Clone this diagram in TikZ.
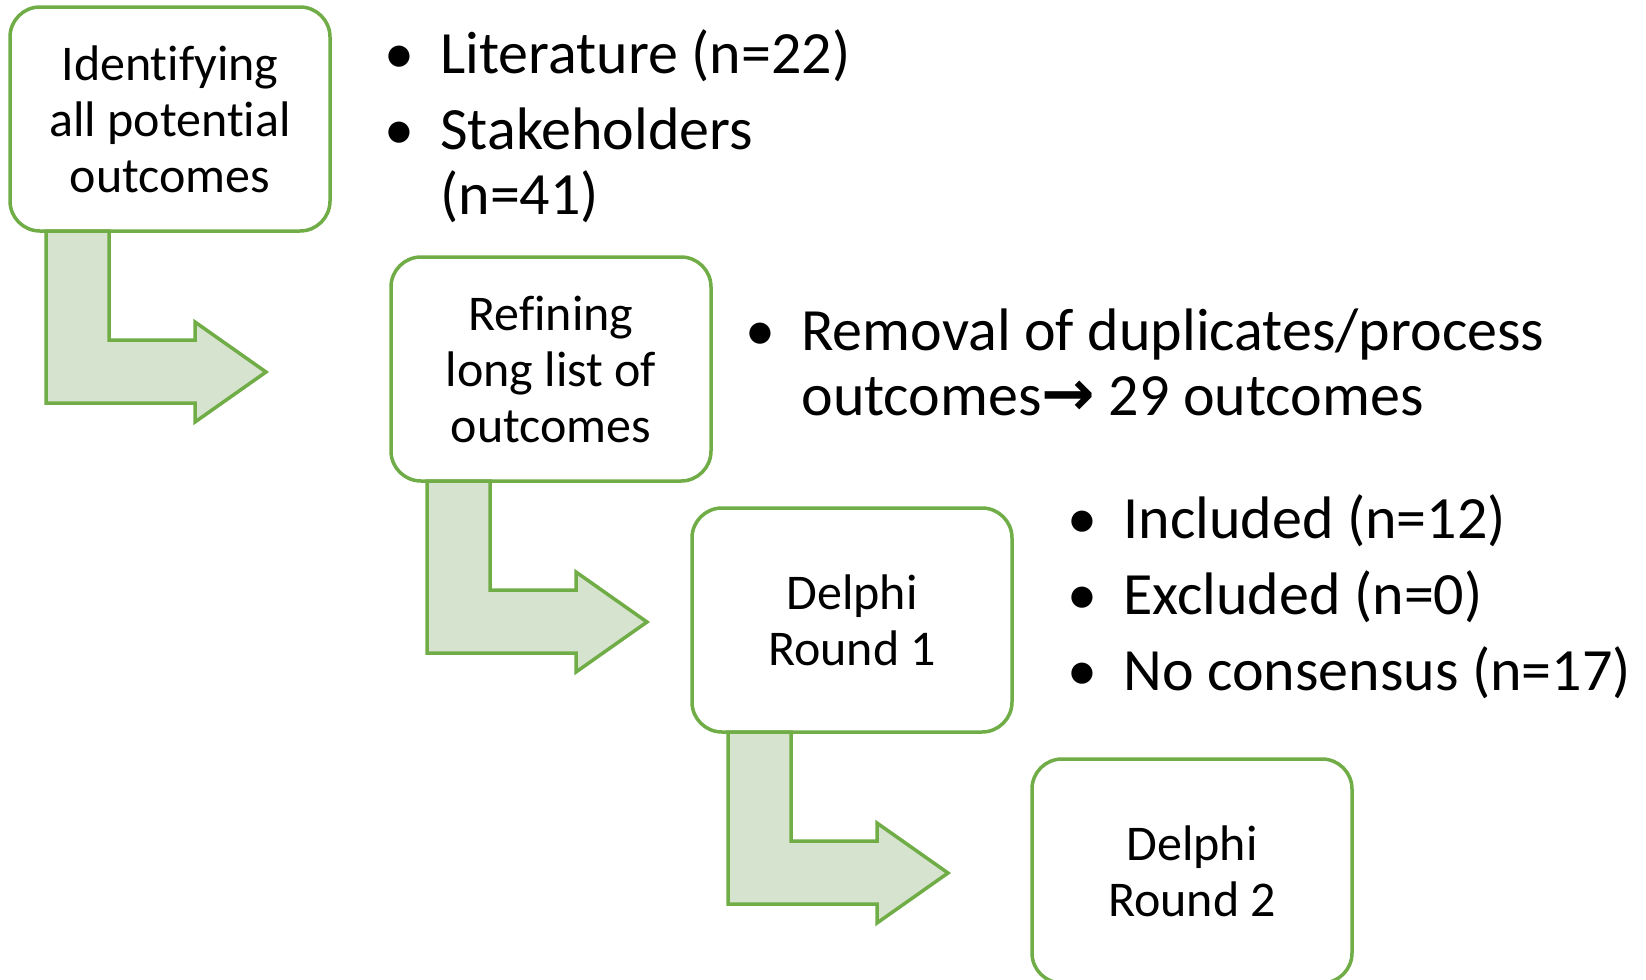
\documentclass[tikz,border=0pt]{standalone}
\usepackage{fontspec}
\setmainfont{Carlito}[Ligatures=NoCommon]
\newfontfamily\arrowfont{DejaVu Sans}
\usetikzlibrary{positioning,calc}
\definecolor{stagegreen}{HTML}{70AD47}
\definecolor{stagefill}{HTML}{D5E3CF}
\newcommand\notebullet{\makebox[41pt]{\textbullet}}

\begin{document}
\begin{tikzpicture}[x=0.5pt, y=-0.5pt,
  stagebox/.style={rounded corners=15pt, draw=stagegreen, line width=1.75pt, fill=white, minimum width=160pt, minimum height=112pt, align=center, outer sep=0pt, inner sep=0pt, font=\fontsize{25}{28}\selectfont},
  bentarrow/.style={draw=stagegreen, line width=1.75pt, fill=stagefill, line join=miter},
  notes/.style={anchor=base west, inner sep=0pt, font=\fontsize{30}{32.5}\selectfont}]
\useasboundingbox (0,0) rectangle (1646,980);
\clip (0,0) rectangle (1646,980);
% stages
\node[stagebox] (b1) at (170,119) {Identifying\\all potential\\outcomes};
\node[stagebox] (b2) at (551,369) {Refining\\long list of\\outcomes};
\node[stagebox] (b3) at (852,620) {Delphi\\Round 1};
\node[stagebox] (b4) at (1192,871) {Delphi\\Round 2};
% bent arrows between stages
\draw[bentarrow, shift={(b1.south west)}] (36,0) -- (36,172) -- (185,172) -- (185,191) -- (256,141) -- (185,91) -- (185,109) -- (99,109) -- (99,0) -- cycle;
\draw[bentarrow, shift={(b2.south west)}] (36,0) -- (36,172) -- (185,172) -- (185,191) -- (256,141) -- (185,91) -- (185,109) -- (99,109) -- (99,0) -- cycle;
\draw[bentarrow, shift={(b3.south west)}] (36,0) -- (36,172) -- (185,172) -- (185,191) -- (256,141) -- (185,91) -- (185,109) -- (99,109) -- (99,0) -- cycle;
% notes
\node[notes] (n1) at (358,73) {\begin{tabular}[t]{@{}l@{}l@{}}\notebullet & Literature (n=22)\\[5.5pt] \notebullet & Stakeholders\\ & (n=41)\end{tabular}};
\node[notes] (n2) at (719,350) {\begin{tabular}[t]{@{}l@{}l@{}}\notebullet & Removal of duplicates/process\\ & outcomes{\arrowfont\bfseries\fontsize{32}{32}\selectfont →} 29 outcomes\end{tabular}};
\node[notes] (n3) at (1041,538) {\begin{tabular}[t]{@{}l@{}l@{}}\notebullet & Included (n=12)\\[5.5pt] \notebullet & Excluded (n=0)\\[5.5pt] \notebullet & No consensus (n=17)\end{tabular}};
\end{tikzpicture}
\end{document}
